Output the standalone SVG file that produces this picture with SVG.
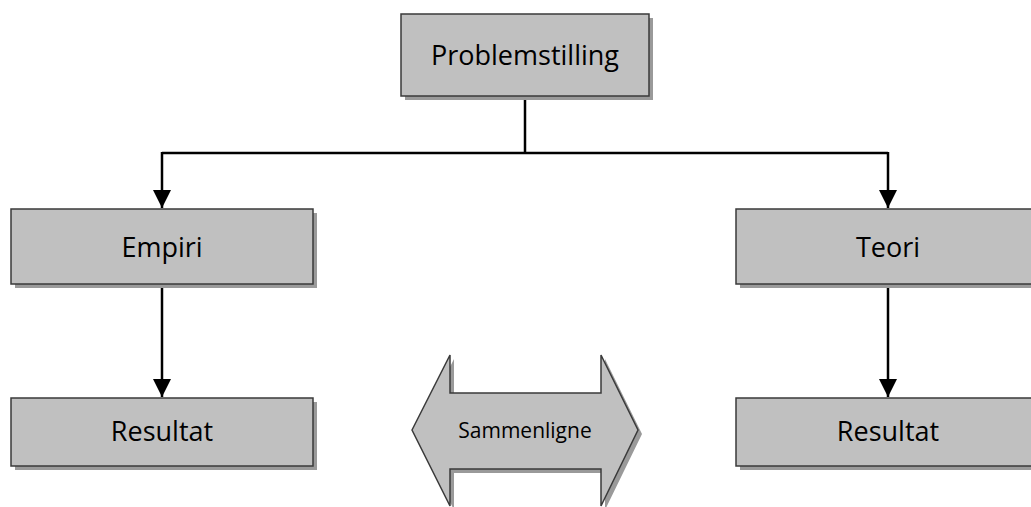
<svg xmlns="http://www.w3.org/2000/svg" width="1031" height="507" viewBox="0 0 1031 507">
<defs>
<style>
.box{fill:#c0c0c0;stroke:#3a3a3a;stroke-width:1.5}
.sh{fill:#9a9a9a}
.lbl{font-family:"Open Sans","Liberation Sans",sans-serif;font-size:27px;fill:#000;text-anchor:middle}
.sm{font-family:"Open Sans","Liberation Sans",sans-serif;font-size:21px;fill:#000;text-anchor:middle}
.con{fill:none;stroke:#000;stroke-width:2.5}
</style>
<marker id="ah" markerWidth="18" markerHeight="18" viewBox="0 0 18 18" refX="18" refY="9" orient="auto" markerUnits="userSpaceOnUse">
<path d="M0,0 L18,9 L0,18 Z" fill="#000"/>
</marker>
</defs>
<rect width="1031" height="507" fill="#fff"/>
<g id="connectors">
<path class="con" d="M525,97 V153"/>
<path class="con" d="M162,153 H888"/>
<path class="con" d="M162,152 V208" marker-end="url(#ah)"/>
<path class="con" d="M888,152 V208" marker-end="url(#ah)"/>
<path class="con" d="M162,285 V397" marker-end="url(#ah)"/>
<path class="con" d="M888,285 V397" marker-end="url(#ah)"/>
</g>
<g id="problemstilling">
<rect class="sh" x="405" y="18" width="248" height="82"/>
<rect class="box" x="401" y="14" width="248" height="82"/>
<text class="lbl" x="525" y="65">Problemstilling</text>
</g>
<g id="empiri">
<rect class="sh" x="15" y="213" width="302" height="75"/>
<rect class="box" x="11" y="209" width="302" height="75"/>
<text class="lbl" x="162" y="257">Empiri</text>
</g>
<g id="teori">
<rect class="sh" x="740" y="213" width="302" height="75"/>
<rect class="box" x="736" y="209" width="302" height="75"/>
<text class="lbl" x="888" y="257">Teori</text>
</g>
<g id="resultat-left">
<rect class="sh" x="15" y="402" width="302" height="68"/>
<rect class="box" x="11" y="398" width="302" height="68"/>
<text class="lbl" x="162" y="441">Resultat</text>
</g>
<g id="resultat-right">
<rect class="sh" x="740" y="402" width="302" height="68"/>
<rect class="box" x="736" y="398" width="302" height="68"/>
<text class="lbl" x="888" y="441">Resultat</text>
</g>
<g id="sammenligne">
<path class="sh" d="M416,434 L454,359 V397 H605 V359 L642,434 L605,510 V473 H454 V510 Z"/>
<path class="box" d="M412,430 L450,355 V393 H601 V355 L638,430 L601,506 V469 H450 V506 Z"/>
<text class="sm" x="525" y="438">Sammenligne</text>
</g>
</svg>
